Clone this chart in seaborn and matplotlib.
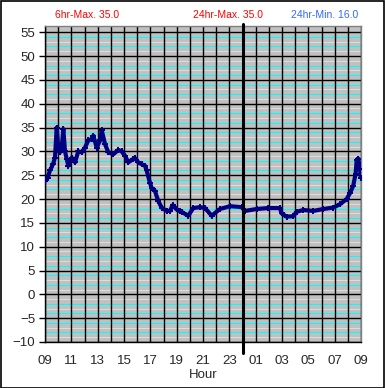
import matplotlib
matplotlib.use("Agg")
import matplotlib.pyplot as plt
import matplotlib.ticker as ticker
from matplotlib.patches import Rectangle
import numpy as np
import pandas as pd
import seaborn as sns

# Hours since 09:00 and temperature
hours = [0.0, 0.2, 0.38, 0.61, 0.76, 0.89, 1.0, 1.14, 1.27, 1.39, 1.52, 1.65, 1.77,
         2.03, 2.28, 2.53, 2.79, 3.04, 3.29, 3.55, 3.67, 3.93, 4.18, 4.31, 4.56,
         4.81, 5.19, 5.57, 5.82, 6.07, 6.33, 6.70, 6.83, 7.08, 7.34, 7.59, 7.72,
         7.97, 8.10, 8.35, 8.60, 8.86, 9.24, 9.49, 9.70, 10.0, 10.25, 10.38, 10.88,
         11.26, 11.77, 12.15, 12.66, 13.29, 14.05, 14.94, 15.19, 16.07, 16.96,
         17.84, 17.97, 18.35, 18.85, 19.11, 19.61, 20.37, 21.13, 21.89, 22.40,
         22.91, 23.16, 23.41, 23.59, 23.67, 23.79, 23.92, 24.0]
temps = [23.8, 24.5, 26.0, 27.3, 28.7, 35.0, 31.0, 29.8, 30.8, 34.7, 30.0, 28.4, 27.0,
         28.7, 27.7, 30.0, 29.8, 30.8, 32.3, 32.6, 33.3, 30.8, 32.3, 34.4, 31.5,
         29.8, 29.4, 30.3, 30.0, 29.1, 27.7, 28.4, 28.6, 27.7, 27.3, 27.0, 26.0,
         23.4, 22.3, 21.7, 19.6, 18.2, 17.5, 17.5, 18.7, 17.8, 17.4, 17.3, 16.5,
         18.1, 18.3, 18.1, 16.5, 17.9, 18.5, 18.3, 17.5, 17.9, 18.1,
         18.1, 17.0, 16.3, 16.4, 17.3, 17.7, 17.5, 17.9, 18.2, 18.9,
         20.0, 21.2, 22.8, 25.3, 28.1, 28.5, 26.3, 24.5]

hour_labels = ["09", "11", "13", "15", "17", "19", "21", "23",
               "01", "03", "05", "07", "09"]
header_texts = ["6hr-Max. 35.0", "24hr-Max. 35.0", "24hr-Min. 16.0"]

df = pd.DataFrame({"hour": hours, "temp": temps})

sns.set_style("white")
plt.rcParams['font.family'] = ['Liberation Sans', 'DejaVu Sans']

fig = plt.figure(figsize=(3.85, 3.88), dpi=100)
ax = fig.add_axes([45 / 385, 1 - 342 / 388, 316 / 385, 316 / 388])
ax.set_facecolor("#c0c0c0")

# minor horizontal lines, alternating cyan / light grey
for v in range(-9, 56):
    if v % 5 == 0:
        continue
    col = "#00ffff" if v % 2 == 0 else "#dcdcdc"
    ax.axhline(v, color=col, lw=0.75, zorder=0.5)

ax.set_xlim(0, 24)
ax.set_ylim(-10, 56.3)
ax.xaxis.set_minor_locator(ticker.MultipleLocator(1))
ax.yaxis.set_major_locator(ticker.MultipleLocator(5))
ax.set_xticks(np.arange(0, 25, 2))
ax.set_xticklabels(hour_labels)
ax.grid(True, which="major", color="black", lw=1.0, zorder=1)
ax.grid(True, which="minor", axis="x", color="black", lw=1.0, zorder=1)
ax.set_axisbelow(True)

sns.lineplot(data=df, x="hour", y="temp", ax=ax, color="#000080", lw=3.0,
             marker="+", markersize=5, markeredgewidth=1.4,
             markeredgecolor="#000080", zorder=3)

# midnight marker
ax.axvline(15, ymin=-0.035, ymax=1.006, color="black", lw=2.2, clip_on=False, zorder=4)

ax.tick_params(axis="y", which="major", length=4, width=1, color="black",
               pad=3, labelsize=9.5, left=True)
ax.tick_params(axis="x", which="both", length=0, pad=9, labelsize=9.5)
ax.set_xlabel("Hour", fontsize=9.5, labelpad=2)
ax.set_ylabel("")

for side in ["left", "bottom"]:
    ax.spines[side].set_color("black")
    ax.spines[side].set_linewidth(1)
for side in ["top", "right"]:
    ax.spines[side].set_color("#808080")
    ax.spines[side].set_linewidth(1)

fig.text(55 / 385, 1 - 15 / 388, header_texts[0], color="#ff0000", fontsize=7.5,
         ha="left", va="center")
fig.text(228 / 385, 1 - 15 / 388, header_texts[1], color="#ff0000", fontsize=7.5,
         ha="center", va="center")
fig.text(358 / 385, 1 - 15 / 388, header_texts[2], color="#3366ff", fontsize=7.5,
         ha="right", va="center")

fig.patches.append(Rectangle((0.5 / 385, 0.5 / 388), 1 - 1.5 / 385, 1 - 1.5 / 388,
                             transform=fig.transFigure, fill=False,
                             edgecolor="black", lw=1.2))

fig.savefig("out.png", dpi=100)
